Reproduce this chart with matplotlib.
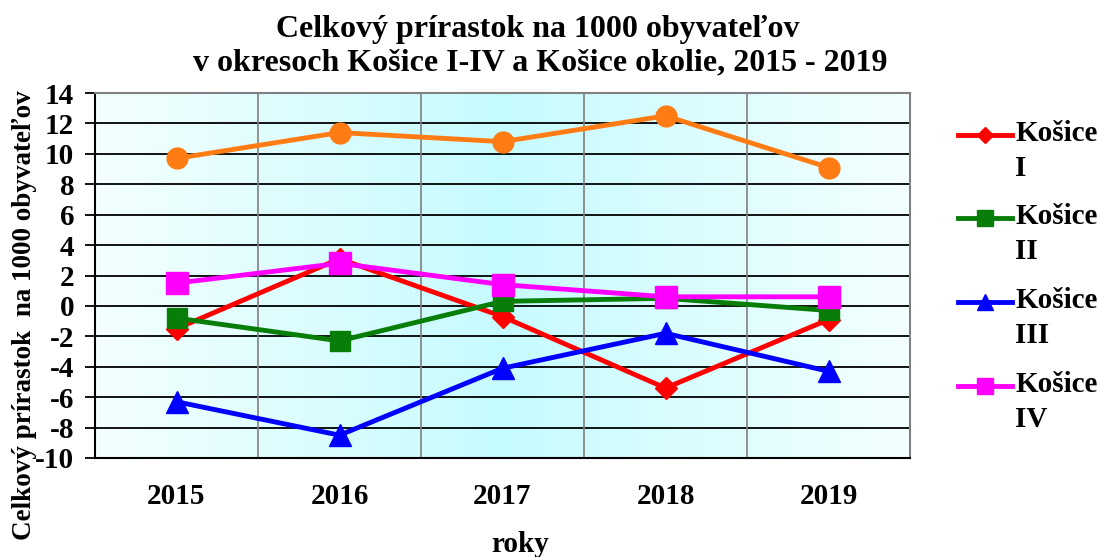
import numpy as np
import matplotlib
matplotlib.use("Agg")
from matplotlib import pyplot as plt
from matplotlib.lines import Line2D
from matplotlib.colors import LinearSegmentedColormap

plt.rcParams['font.family'] = ['Liberation Serif', 'DejaVu Serif']
plt.rcParams['font.weight'] = 'bold'
plt.rcParams['axes.unicode_minus'] = False

roky = ['2015', '2016', '2017', '2018', '2019']

kosice_1 = [-1.5, 3.1, -0.7, -5.4, -0.9]
kosice_2 = [-0.8, -2.3, 0.3, 0.5, -0.3]
kosice_3 = [-6.3, -8.5, -4.1, -1.8, -4.3]
kosice_4 = [1.5, 2.8, 1.4, 0.6, 0.6]
kosice_okolie = [9.7, 11.4, 10.8, 12.5, 9.1]

W, H = 1097, 557
fig = plt.figure(figsize=(W / 100, H / 100), dpi=100)
# plot area in pixels: x 95..910, y 93..458
ax = fig.add_axes([95 / W, 1 - 458 / H, 815 / W, 365 / H])

x = np.arange(len(roky))
ax.set_xlim(-0.5, len(roky) - 0.5)
ax.set_ylim(-10, 14)

# gradient pozadie (biela na okrajoch, azurova v strede)
cmap = LinearSegmentedColormap.from_list('bg', ['#f4ffff', '#c6fbfe', '#f4ffff'])
grad = np.linspace(0, 1, 256).reshape(1, -1)
ax.imshow(grad, cmap=cmap, aspect='auto', extent=[0, 1, 0, 1],
          transform=ax.transAxes, zorder=0)

for yv in range(-8, 15, 2):
    ax.axhline(yv, color='black', lw=1.3, zorder=1)
for xv in np.arange(0.5, len(roky) - 0.5, 1):
    ax.axvline(xv, color='#808080', lw=1.2, zorder=1)

series = [
    (kosice_okolie, '#ff7c14', 'o', 15, 'Košice okolie'),
    (kosice_1, '#ff0000', 'D', 11, 'Košice\nI'),
    (kosice_2, '#087d08', 's', 15, 'Košice\nII'),
    (kosice_3, '#0000ff', '^', 16, 'Košice\nIII'),
    (kosice_4, '#ff00ff', 's', 16, 'Košice\nIV'),
]
for vals, col, mk, ms, lab in series:
    ax.plot(x, vals, color=col, lw=3.5, marker=mk, ms=ms, zorder=3, clip_on=False)

ax.set_xticks(x)
ax.set_xticklabels(roky, fontsize=21)
ax.set_yticks(range(-10, 15, 2))
ax.tick_params(axis='y', labelsize=21, length=7, width=1.3, direction='out', pad=8)
ax.tick_params(axis='x', length=0, pad=18)

for s in ['left', 'bottom']:
    ax.spines[s].set_color('black')
    ax.spines[s].set_linewidth(1.5)
for s in ['right', 'top']:
    ax.spines[s].set_color('#808080')
    ax.spines[s].set_linewidth(1.5)

fig.text(538 / W, 1 - 30 / H, 'Celkový prírastok na 1000 obyvateľov',
         ha='center', va='center', fontsize=23, fontweight='bold')
fig.text(540 / W, 1 - 63 / H, 'v okresoch Košice I-IV a Košice okolie, 2015 - 2019',
         ha='center', va='center', fontsize=23, fontweight='bold')
fig.text(25 / W, 1 - 315 / H, 'Celkový prírastok  na 1000 obyvateľov',
         rotation=90, ha='center', va='center', fontsize=19.5, fontweight='bold')
fig.text(520 / W, 1 - 545 / H, 'roky', ha='center', va='center',
         fontsize=21, fontweight='bold')

# legenda (len Košice I-IV)
leg_y = [135, 218, 302, 386]
for (vals, col, mk, ms, lab), yy in zip(series[1:], leg_y):
    fy = 1 - yy / H
    fig.add_artist(Line2D([958 / W, 1012 / W], [fy, fy], color=col, lw=3.5,
                          transform=fig.transFigure))
    fig.add_artist(Line2D([985 / W], [fy], color=col, marker=mk, ms=ms * 0.75,
                          transform=fig.transFigure))
    fig.text(1015 / W, fy + 15 / H, lab, ha='left', va='top', fontsize=21,
             fontweight='bold', linespacing=1.4)

fig.savefig('out.png', dpi=100)
